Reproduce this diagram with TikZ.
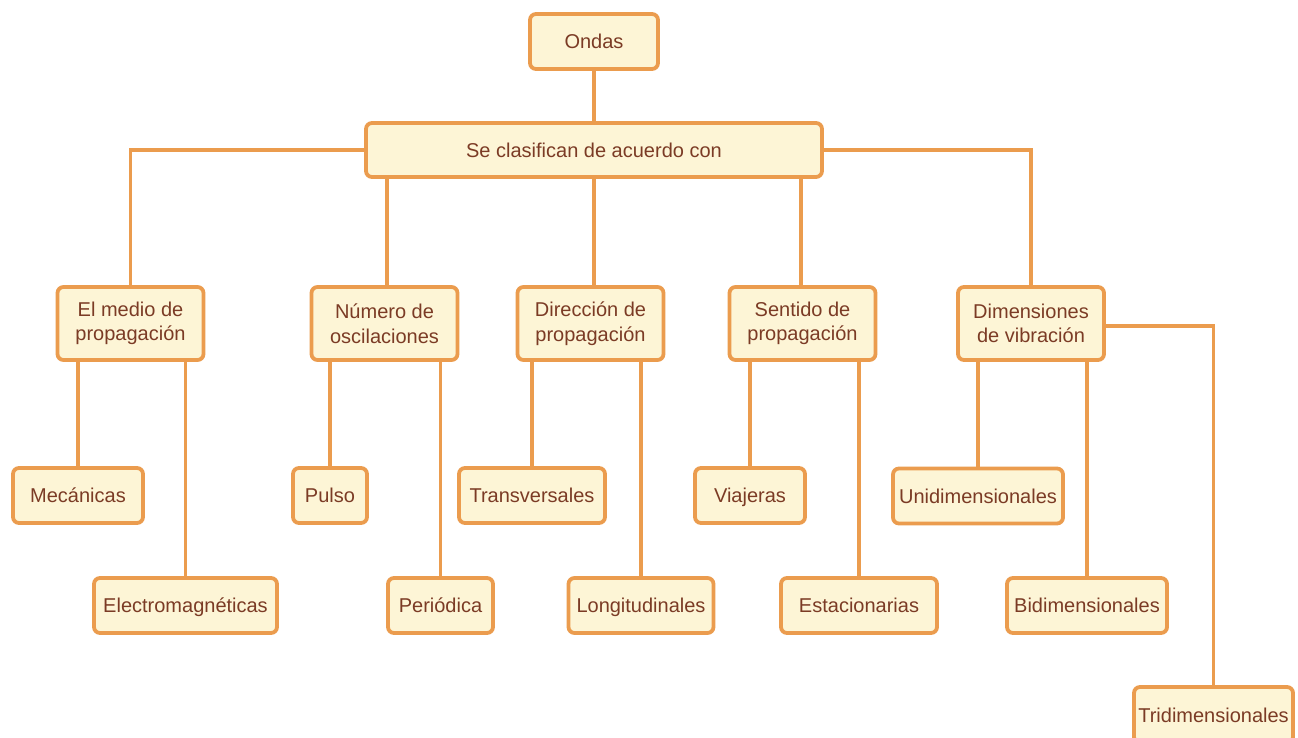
\documentclass[tikz,border=0pt]{standalone}
\usepackage{fontspec}
\setmainfont{Liberation Sans}
\definecolor{boxfill}{HTML}{FDF5D6}
\definecolor{boxline}{HTML}{EB9C4E}
\definecolor{boxtext}{HTML}{7B3B25}
\begin{document}
\begin{tikzpicture}[x=1pt,y=-1pt,
  box/.style={draw=boxline, fill=boxfill, line width=3.8pt, rounded corners=6pt,
    text=boxtext, align=center, inner sep=0pt,
    font=\fontsize{20}{24.5}\selectfont},
  one/.style={box, text height=16pt, text depth=1.6pt, minimum height=55},
  conn/.style={draw=boxline, line width=3.6pt}]
\useasboundingbox (0,0) rectangle (1298,738);
\fill[white] (0,0) rectangle (1298,738);
% nodes
\node[one, minimum width=128] (ondas) at (594,41.5) {Ondas};
\node[one, minimum width=456, minimum height=54] (sec) at (594,150) {Se clasifican de acuerdo con};
\node[box, minimum width=146, minimum height=73] (medio) at (130.5,323.5) {El medio de\\propagación};
\node[box, minimum width=146, minimum height=73] (num) at (384.5,323.5) {Número de\\oscilaciones};
\node[box, minimum width=146, minimum height=73] (dir) at (590.5,323.5) {Dirección de\\propagación};
\node[box, minimum width=146, minimum height=73] (sen) at (802.5,323.5) {Sentido de\\propagación};
\node[box, minimum width=146, minimum height=73] (dim) at (1031,323.5) {Dimensiones\\de vibración};
\node[one, minimum width=130] (mec) at (78,495.5) {Mecánicas};
\node[one, minimum width=74] (pul) at (330,495.5) {Pulso};
\node[one, minimum width=146] (tra) at (532,495.5) {Transversales};
\node[one, minimum width=110] (via) at (750,495.5) {Viajeras};
\node[one, minimum width=170] (uni) at (978,496) {Unidimensionales};
\node[one, minimum width=183] (ele) at (185.5,605.5) {Electromagnéticas};
\node[one, minimum width=105] (per) at (440.5,605.5) {Periódica};
\node[one, minimum width=145] (lon) at (641,605.5) {Longitudinales};
\node[one, minimum width=156] (est) at (859,605.5) {Estacionarias};
\node[one, minimum width=160] (bid) at (1087,605.5) {Bidimensionales};
\node[one, minimum width=159, minimum height=56] (tri) at (1213.5,715) {Tridimensionales};
% connectors
\path[conn] (ondas.south) -- (sec.north);
\path[conn] (sec.west) -| (medio.north);
\path[conn] (sec.east) -| (dim.north);
\path[conn] ([xshift=2.5pt]sec.south -| num.north) -- ([xshift=2.5pt]num.north);
\path[conn] ([xshift=3.5pt]sec.south -| dir.north) -- ([xshift=3.5pt]dir.north);
\path[conn] ([xshift=-1.5pt]sec.south -| sen.north) -- ([xshift=-1.5pt]sen.north);
\path[conn] (medio.south -| mec.north) -- (mec.north);
\path[conn] (medio.south -| ele.north) -- (ele.north);
\path[conn] (num.south -| pul.north) -- (pul.north);
\path[conn] (num.south -| per.north) -- (per.north);
\path[conn] (dir.south -| tra.north) -- (tra.north);
\path[conn] (dir.south -| lon.north) -- (lon.north);
\path[conn] (sen.south -| via.north) -- (via.north);
\path[conn] (sen.south -| est.north) -- (est.north);
\path[conn] (dim.south -| uni.north) -- (uni.north);
\path[conn] (dim.south -| bid.north) -- (bid.north);
\path[conn] ([yshift=-2.5pt]dim.east) -| (tri.north);
\end{tikzpicture}
\end{document}
